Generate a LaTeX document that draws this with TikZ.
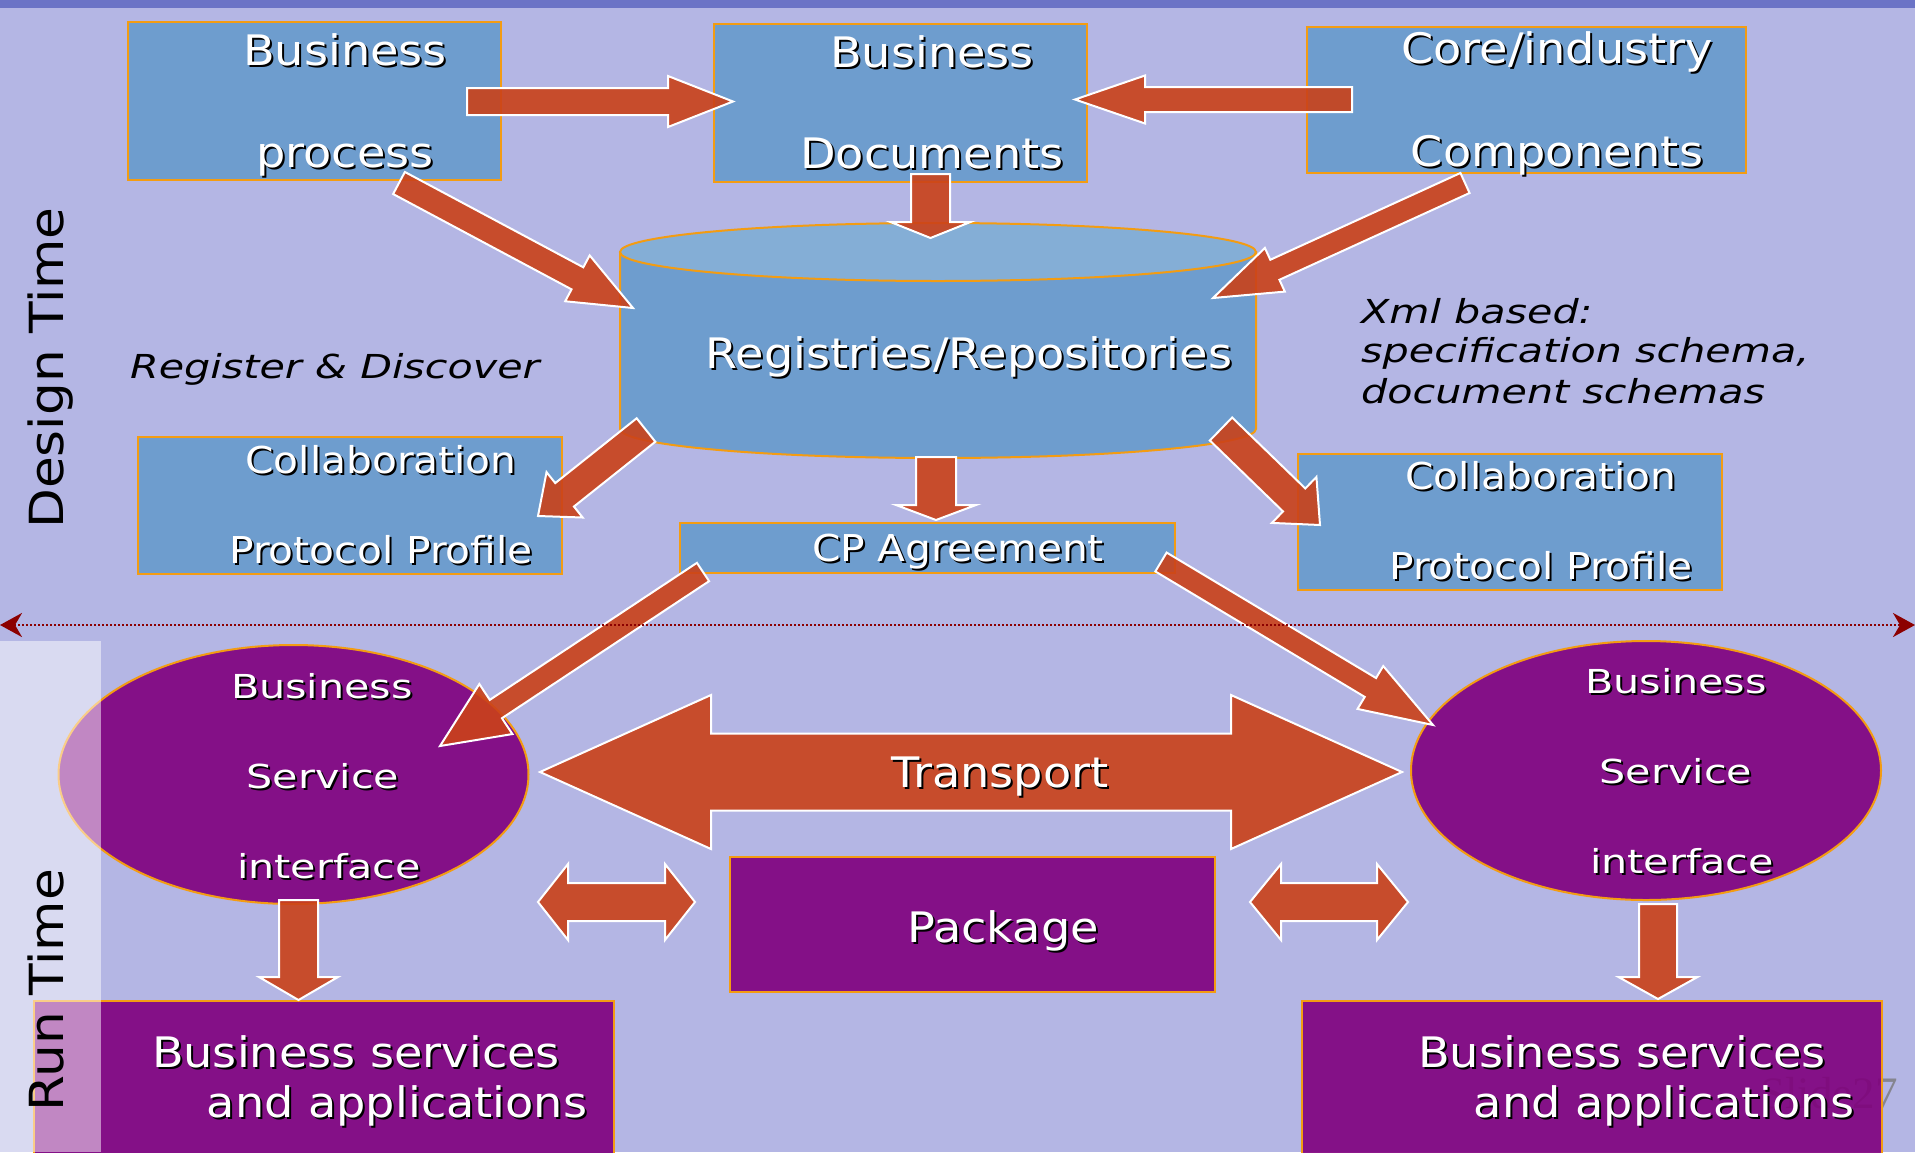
\documentclass[tikz,border=0pt]{standalone}
\usepackage{fontspec}
\setmainfont{DejaVu Sans}[FakeStretch=1.1]
\newfontfamily\widefont{DejaVu Sans}[FakeStretch=1.25]
\newfontfamily\wideit{DejaVu Sans Oblique}[FakeStretch=1.25]
\newfontfamily\wmfont{Liberation Serif}
\usetikzlibrary{calc,shapes.geometric,arrows.meta}
\definecolor{Backdrop}{HTML}{B4B6E4}
\definecolor{TopBar}{HTML}{6B73C6}
\definecolor{BoxBlue}{HTML}{6E9DCE}
\definecolor{CylTop}{HTML}{84AED6}
\definecolor{BoxEdge}{HTML}{F39C12}
\definecolor{BoxPurple}{HTML}{841087}
\definecolor{BoxPurpleB}{HTML}{7F007D}
\definecolor{ArrowRed}{HTML}{CA4119}
\definecolor{DotRed}{HTML}{8C0000}
\definecolor{Watermark}{HTML}{85858F}
\newcommand\sizeA{\fontsize{42}{48}\selectfont}
\newcommand\sizeB{\fontsize{37}{44}\selectfont}
\newcommand\sizeC{\fontsize{33}{40}\selectfont}
\newcommand\sizeD{\fontsize{47}{54}\selectfont}
% white text with a black drop shadow
\newcommand\sh[1]{\rlap{\kern2pt\raisebox{-2pt}{\textcolor{black}{#1}}}\textcolor{white}{#1}}
\tikzset{
  bluebox/.style 2 args={draw=BoxEdge,line width=2pt,fill=BoxBlue,inner sep=0pt,minimum width=#1,minimum height=#2},
  purplebox/.style 2 args={draw=BoxEdge,line width=2pt,fill=BoxPurple,inner sep=0pt,minimum width=#1,minimum height=#2},
  bubble/.style={ellipse,draw=BoxEdge,line width=2pt,fill=BoxPurple,inner sep=0pt,minimum width=470pt,minimum height=259pt},
  cylbody/.style={draw=BoxEdge,line width=2pt,fill=BoxBlue},
  cyltop/.style={draw=BoxEdge,line width=2pt,fill=CylTop},
  redarrow/.style={fill=ArrowRed,fill opacity=0.9,draw=white,line width=2pt,line join=miter},
  txt/.style={inner sep=0pt,anchor=base},
  big/.style={txt,font=\sizeA},
  mid/.style={txt,font=\sizeB},
  wide/.style={txt,font=\widefont\sizeC},
  note/.style={inner sep=0pt,anchor=base west,font=\wideit\sizeC},
  side/.style={inner sep=0pt,anchor=base,rotate=90,font=\sizeD},
  dotline/.style={DotRed,line width=2.5pt,dash pattern=on 2pt off 2pt,{Stealth[length=22pt,width=24pt,inset=7pt]}-{Stealth[length=22pt,width=24pt,inset=7pt]}}
}
% block arrow: from, to, half shaft, half head, head length
\newcommand\blockarrow[5]{%
  \coordinate (h) at ($(#2)!#5pt!(#1)$);
  \draw[redarrow] ($(#1)!#3pt!90:(#2)$) -- ($(h)!#3pt!-90:(#1)$) -- ($(h)!#4pt!-90:(#1)$) -- (#2)
    -- ($(h)!#4pt!90:(#1)$) -- ($(h)!#3pt!90:(#1)$) -- ($(#1)!#3pt!-90:(#2)$) -- cycle;}
% double block arrow: end, end, half shaft, half head, head length
\newcommand\dblarrow[5]{%
  \coordinate (ha) at ($(#1)!#5pt!(#2)$);
  \coordinate (hb) at ($(#2)!#5pt!(#1)$);
  \draw[redarrow] (#1) -- ($(ha)!#4pt!90:(#2)$) -- ($(ha)!#3pt!90:(#2)$) -- ($(hb)!#3pt!-90:(#1)$)
    -- ($(hb)!#4pt!-90:(#1)$) -- (#2) -- ($(hb)!#4pt!90:(#1)$) -- ($(hb)!#3pt!90:(#1)$)
    -- ($(ha)!#3pt!-90:(#2)$) -- ($(ha)!#4pt!-90:(#2)$) -- cycle;}
\begin{document}
\begin{tikzpicture}[x=1pt,y=-1pt]
\useasboundingbox (0,0) rectangle (1915,1152);
\clip (0,0) rectangle (1915,1152);
\fill[Backdrop] (0,0) rectangle (1915,1152);
\fill[TopBar] (0,0) rectangle (1915,8);
%% watermark, seen through the box
\node[inner sep=0pt,anchor=base west,text=Watermark,font=\wmfont\fontsize{45}{50}\selectfont] (wm) at (1760,1108) {Slide27};

%% boxes
\node[bluebox={373}{158}] (bp) at (314.5,101) {};
\node[bluebox={373}{158}] (bd) at (900.5,103) {};
\node[bluebox={439}{146}] (core) at (1526.5,100) {};
\node[bluebox={424}{137}] (cppl) at (350,505.5) {};
\node[bluebox={424}{136}] (cppr) at (1510,522) {};
\node[bluebox={495}{50}] (cpa) at (927.5,548) {};
\node[purplebox={485}{135}] (pkg) at (972.5,924.5) {};
\node[purplebox={580}{170}] (appl) at (324,1086) {};
\node[purplebox={580}{170},fill=BoxPurpleB,fill opacity=0.9] (appr) at (1592,1086) {};
\node[bubble] (bsil) at (293.5,774.5) {};
\node[bubble] (bsir) at (1646,770.5) {};
%% registry cylinder
\draw[cylbody] (620,252) -- (620,429) arc[start angle=180,end angle=0,x radius=318,y radius=29] -- (1256,252) -- cycle;
\draw[cyltop] (938,252) ellipse [x radius=318,y radius=29];

%% texts
\node[big] (bp1) at (345,65) {\sh{Business}};
\node[big] (bp2) at (345,167) {\sh{process}};
\node[big] (bd1) at (932,67) {\sh{Business}};
\node[big] (bd2) at (932,168) {\sh{Documents}};
\node[big] (core1) at (1557,63) {\sh{Core/industry}};
\node[big] (core2) at (1557,166) {\sh{Components}};
\node[big] (reg) at (969,368) {\sh{Registries/Repositories}};
\node[mid] (cppl1) at (381,473) {\sh{Collaboration}};
\node[mid] (cppl2) at (381,563) {\sh{Protocol Profile}};
\node[mid] (cppr1) at (1541,489) {\sh{Collaboration}};
\node[mid] (cppr2) at (1541,579) {\sh{Protocol Profile}};
\node[mid] (cpat) at (958,561) {\sh{CP Agreement}};
\node[big] (pkgt) at (1003,942) {\sh{Package}};
\node[big] (appl1) at (356,1067) {\sh{Business services}};
\node[big] (appl2) at (397,1117) {\sh{and applications}};
\node[big] (appr1) at (1622,1067) {\sh{Business services}};
\node[big] (appr2) at (1664,1117) {\sh{and applications}};
\foreach \n/\x/\y/\t in {bsil1/322/698/Business,bsil2/323/788/Service,bsil3/329/878/interface,
  bsir1/1676/693/Business,bsir2/1676/783/Service,bsir3/1682/873/interface}
  \node[wide] (\n) at (\x,\y) {\sh{\t}};
\node[note] (regdisc) at (130,378) {Register \& Discover};
\node[note] (xml1) at (1361,323) {Xml based:};
\node[note] (xml2) at (1361,362) {specification schema,};
\node[note] (xml3) at (1361,403) {document schemas};

%% arrow ends
\coordinate (a1s) at (467,101.5);  \coordinate (a1e) at (733,101.5);
\coordinate (a2s) at (1352,99.5);  \coordinate (a2e) at (1075,99.5);
\coordinate (a3s) at (930.5,174);  \coordinate (a3e) at (930.5,238);
\coordinate (a4s) at (399,183);    \coordinate (a4e) at (633,308);
\coordinate (a5s) at (1465,183);   \coordinate (a5e) at (1213,298);
\coordinate (a6s) at (646,430);    \coordinate (a6e) at (538,516);
\coordinate (a7s) at (1221,429);   \coordinate (a7e) at (1320,525);
\coordinate (a8s) at (936,457);    \coordinate (a8e) at (936,520);
\coordinate (a9s) at (703,572);    \coordinate (a9e) at (440,746);
\coordinate (a10s) at (1161,562);  \coordinate (a10e) at (1433,725);
\coordinate (a11s) at (298.5,900); \coordinate (a11e) at (298.5,1000);
\coordinate (a12s) at (1658,904);  \coordinate (a12e) at (1658,999);
\coordinate (trl) at (540,772);    \coordinate (trr) at (1402,772);
\coordinate (pkl1) at (538,902);   \coordinate (pkl2) at (695,902);
\coordinate (pkr1) at (1250,902);  \coordinate (pkr2) at (1408,902);

%% arrows
\blockarrow{a1s}{a1e}{13.5}{25.5}{65}
\blockarrow{a2s}{a2e}{12.5}{24}{70}
\blockarrow{a3s}{a3e}{19.5}{40}{16}
\blockarrow{a4s}{a4e}{12.5}{26}{63}
\blockarrow{a5s}{a5e}{11}{24}{68}
\blockarrow{a6s}{a6e}{15}{29}{34}
\blockarrow{a7s}{a7e}{16}{32}{36}
\blockarrow{a8s}{a8e}{20}{40}{15}
\blockarrow{a9s}{a9e}{11}{30}{67}
\blockarrow{a10s}{a10e}{11}{25}{73}
\blockarrow{a11s}{a11e}{19.5}{39.5}{23}
\blockarrow{a12s}{a12e}{19}{39.5}{22}
\dblarrow{trl}{trr}{38.5}{77}{171}
\dblarrow{pkl1}{pkl2}{19}{38}{30}
\dblarrow{pkr1}{pkr2}{19}{38}{31}
\node[big] (trans) at (1000,787) {\sh{Transport}};

%% run time strip and side titles
\fill[white,opacity=0.5] (0,641) rectangle (101,1152);
\node[side] (design) at (63,368) {Design Time};
\node[side] (run) at (63,990) {Run Time};
\coordinate (dl) at (0,625);
\coordinate (dr) at (1915,625);
\draw[dotline] (dl) -- (dr);
\end{tikzpicture}
\end{document}
